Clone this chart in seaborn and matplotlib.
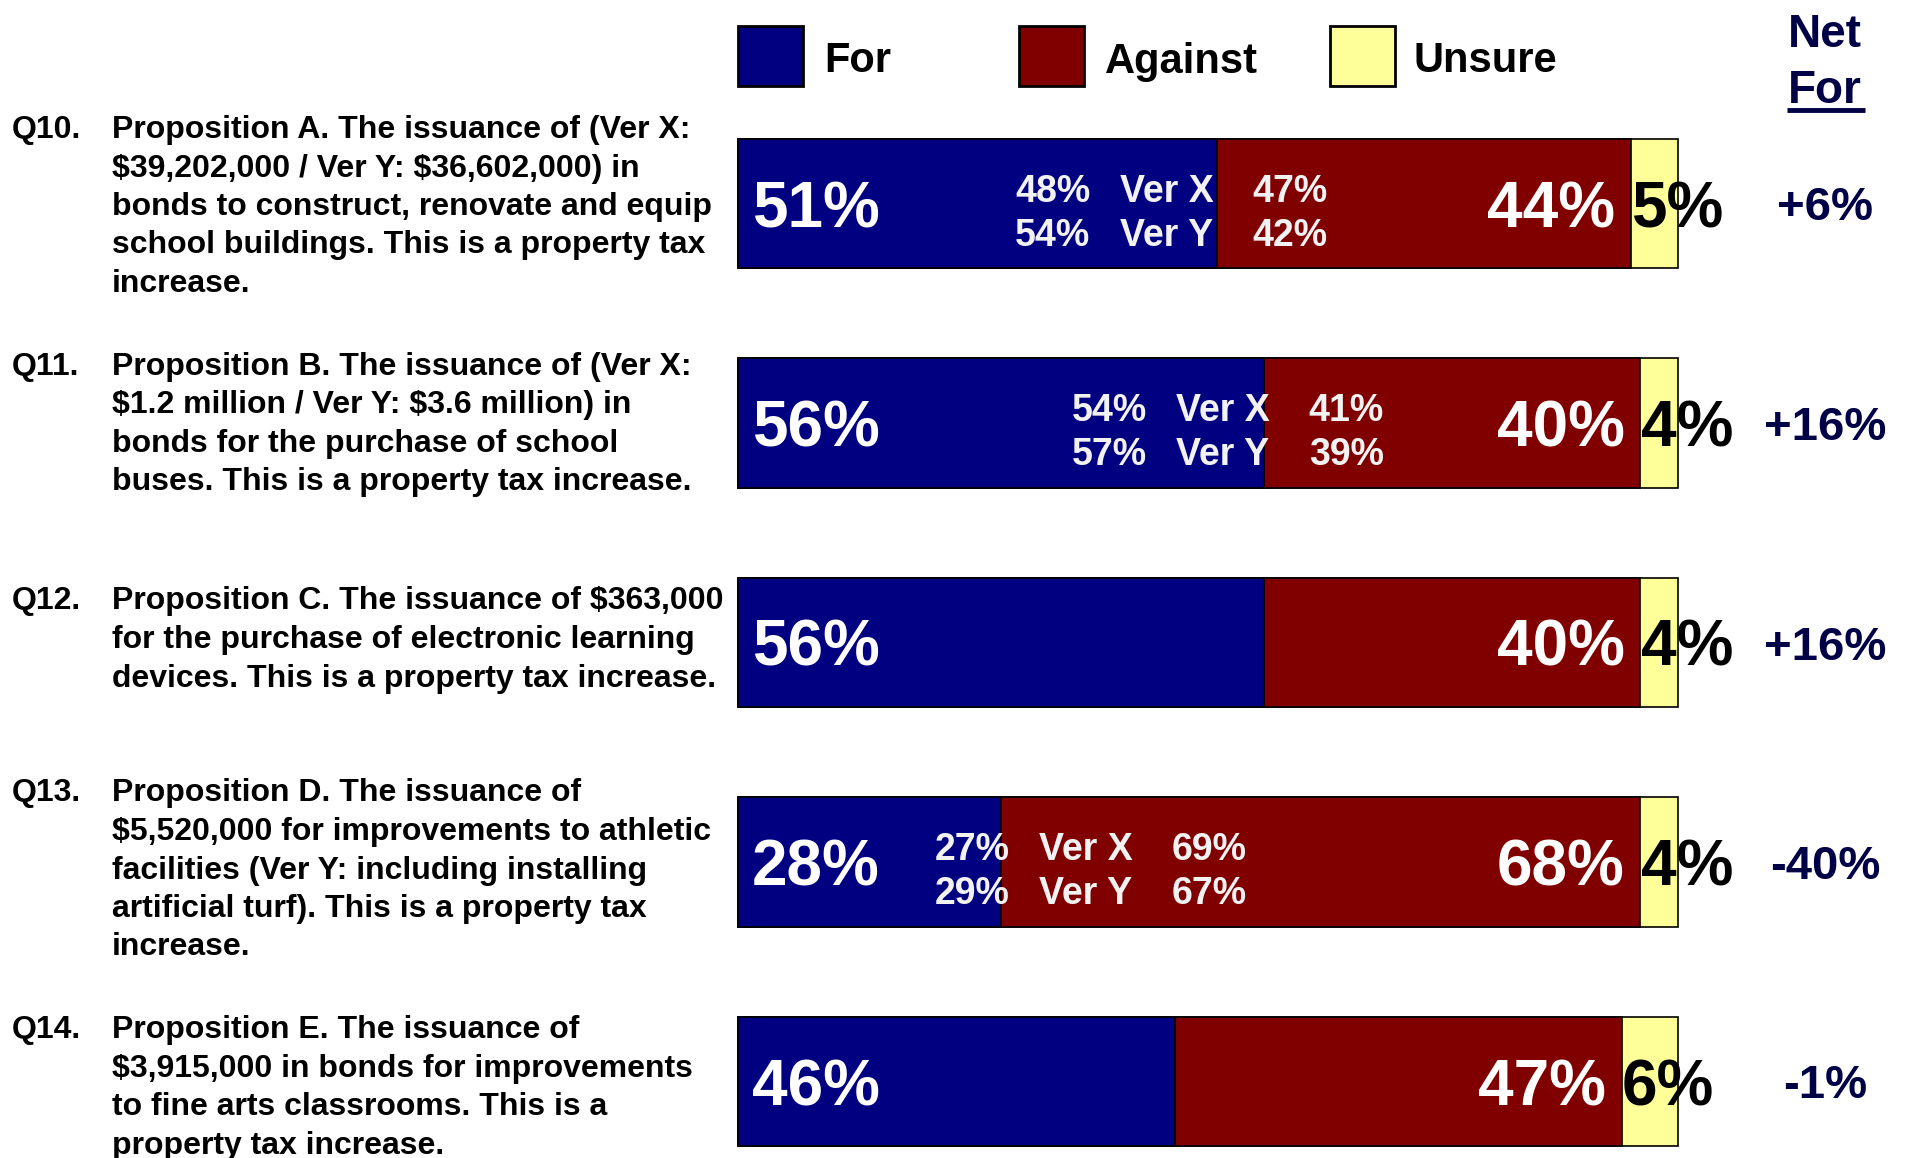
import matplotlib
matplotlib.use("Agg")
import matplotlib.pyplot as plt
from matplotlib.patches import Rectangle
import seaborn as sns

# data
questions = ["Q10.", "Q11.", "Q12.", "Q13.", "Q14."]
question_lines = [
    ["Proposition A. The issuance of (Ver X:",
     "$39,202,000 / Ver Y: $36,602,000) in",
     "bonds to construct, renovate and equip",
     "school buildings. This is a property tax",
     "increase."],
    ["Proposition B. The issuance of (Ver X:",
     "$1.2 million / Ver Y: $3.6 million) in",
     "bonds for the purchase of school",
     "buses. This is a property tax increase."],
    ["Proposition C. The issuance of $363,000",
     "for the purchase of electronic learning",
     "devices. This is a property tax increase."],
    ["Proposition D. The issuance of",
     "$5,520,000 for improvements to athletic",
     "facilities (Ver Y: including installing",
     "artificial turf). This is a property tax",
     "increase."],
    ["Proposition E. The issuance of",
     "$3,915,000 in bonds for improvements",
     "to fine arts classrooms. This is a",
     "property tax increase."],
]
for_pct = [51, 56, 56, 28, 46.5]
against_pct = [44, 40, 40, 68, 47.5]
unsure_pct = [5, 4, 4, 4, 6]
for_lbl = [51, 56, 56, 28, 46]
against_lbl = [44, 40, 40, 68, 47]
unsure_lbl = [5, 4, 4, 4, 6]
net_for = [6, 16, 16, -40, -1]

# split versions (None = no split shown)
verx_for = [48, 54, None, 27, None]
very_for = [54, 57, None, 29, None]
verx_against = [47, 41, None, 69, None]
very_against = [42, 39, None, 67, None]

legend_names = ["For", "Against", "Unsure"]
colors = ["#000080", "#800000", "#FFFF99"]
net_color = "#000046"

# layout: centre of the "for" column of the version labels,
# and small vertical nudges (pixels) of each question block
ver_anchor = [33.5, 39.5, None, 24.9, None]
text_shift = [0, -2, -6, 5, 3]

plt.rcParams["font.family"] = ["Liberation Sans", "DejaVu Sans"]
plt.rcParams["font.weight"] = "bold"

fig = plt.figure(figsize=(19.07, 11.58), dpi=100)
ax = fig.add_axes([0, 0, 1, 1])

cum_fa = [f + a for f, a in zip(for_pct, against_pct)]
cum_all = [c + u for c, u in zip(cum_fa, unsure_pct)]

# stacked bars: draw totals first, then overlay shorter pieces
for vals, col in zip([cum_all, cum_fa, for_pct], colors[::-1]):
    sns.barplot(x=vals, y=questions, orient="h", color=col, saturation=1,
                width=0.588, edgecolor="black", linewidth=1.2,
                errorbar=None, ax=ax)

# map reference pixels to data units
PX = 9.4
ROW = 219.5
def px(p):
    return (p - 738) / PX
def py(p):
    return (p - 203.5) / ROW

ax.set_xlim(px(0), px(1907))
ax.set_ylim(py(1158), py(0))
ax.axis("off")

# question text
line_gap = 38.5 / ROW
for i, (q, lines) in enumerate(zip(questions, question_lines)):
    n = len(lines)
    for j, line in enumerate(lines):
        y = i + (j - (n - 1) / 2) * line_gap + text_shift[i] / ROW
        if j == 0:
            ax.text(px(12), y, q, fontsize=23, ha="left", va="center_baseline",
                    parse_math=False)
        ax.text(px(112), y, line, fontsize=23, ha="left", va="center_baseline",
                parse_math=False)

# bar labels
for i in range(len(questions)):
    ax.text(1.5, i, f"{for_lbl[i]}%", fontsize=46, color="white",
            ha="left", va="center_baseline")
    ax.text(cum_fa[i] - 1.7, i, f"{against_lbl[i]}%", fontsize=46,
            color="white", ha="right", va="center_baseline")
    ax.text(cum_fa[i] + 0.05, i, f"{unsure_lbl[i]}%", fontsize=46,
            color="black", ha="left", va="center_baseline")
    ax.text(px(1825), i, f"{net_for[i]:+d}%", fontsize=34, color=net_color,
            ha="center", va="center_baseline")
    if verx_for[i] is not None:
        a = ver_anchor[i]
        for dy, vf, tag, va_ in [(-16, verx_for[i], "Ver X", verx_against[i]),
                                 (28, very_for[i], "Ver Y", very_against[i])]:
            y = i + dy / ROW
            ax.text(a, y, f"{vf}%", fontsize=27, color="#F2F2F2",
                    ha="center", va="center_baseline")
            ax.text(a + 12.1, y, tag, fontsize=27, color="#F2F2F2",
                    ha="center", va="center_baseline")
            ax.text(a + 25.2, y, f"{va_}%", fontsize=27, color="#F2F2F2",
                    ha="center", va="center_baseline")

# legend
for name, col, bx, tx in zip(legend_names, colors, [738, 1019, 1330],
                             [824, 1105, 1414]):
    ax.add_patch(Rectangle((px(bx), py(26)), 65 / PX, 60 / ROW,
                           facecolor=col, edgecolor="black", linewidth=2))
    ax.text(px(tx), py(57), name, fontsize=30, ha="left",
            va="center_baseline")

# net for header
ax.text(px(1825), py(30), "Net", fontsize=33, color=net_color,
        ha="center", va="center_baseline")
ax.text(px(1825), py(86), "For", fontsize=33, color=net_color,
        ha="center", va="center_baseline")
ax.plot([px(1787), px(1865)], [py(110), py(110)], color=net_color,
        linewidth=3.5, solid_capstyle="butt")

fig.savefig("out.png", dpi=100)
